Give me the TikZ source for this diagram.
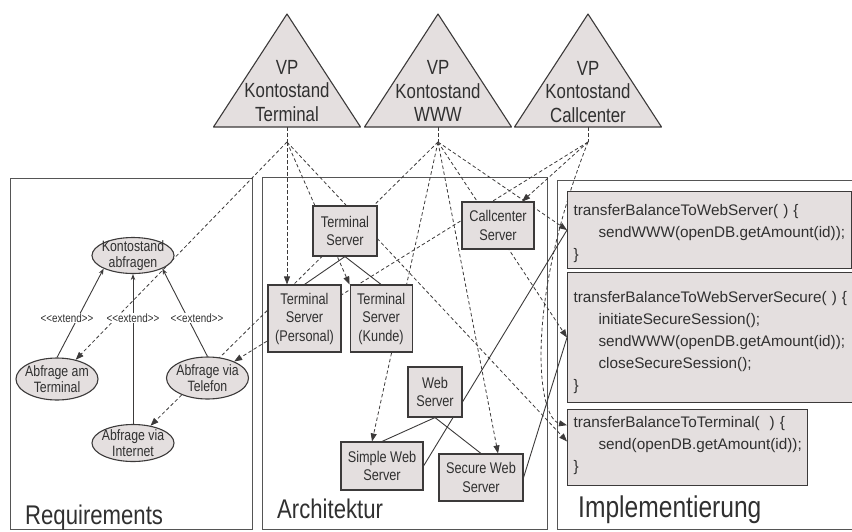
\documentclass[tikz,border=0pt]{standalone}
\usepackage{fontspec}
\setmainfont{Liberation Sans}
\newfontfamily\narrowsf{Liberation Sans}[FakeStretch=0.82]
\usepackage{xcolor}
\usetikzlibrary{arrows.meta,positioning,shapes.geometric,backgrounds,calc}

\definecolor{linecol}{HTML}{3C3A3A}
\definecolor{boxfill}{HTML}{E4DFDF}
\definecolor{textcol}{HTML}{303030}
\definecolor{panelcol}{HTML}{555555}

\begin{document}
\begin{tikzpicture}[x=1pt, y=-1pt,
  vpshape/.style={draw=linecol, fill=boxfill, line width=1.1pt, line join=round},
  vplabel/.style={align=center, text=textcol, inner sep=0pt, font=\narrowsf\fontsize{20.5}{23.5}\selectfont},
  srvbox/.style={draw=linecol, fill=boxfill, line width=1.1pt, align=center, inner sep=0pt, text=textcol, font=\narrowsf\fontsize{15.5}{18.5}\selectfont},
  usecase/.style={ellipse, draw=linecol, fill=boxfill, line width=1.1pt, align=center, inner xsep=-9pt, inner ysep=-3pt, text=textcol, font=\narrowsf\fontsize{15}{15.5}\selectfont},
  codebox/.style={draw=linecol, fill=boxfill, line width=1.1pt, anchor=north west, align=left, inner xsep=6pt, inner ysep=0pt, text=textcol, font=\fontsize{15.3}{22}\selectfont},
  extlabel/.style={fill=white, inner sep=1pt, text=textcol, font=\narrowsf\fontsize{12}{12}\selectfont},
  paneltitle/.style={anchor=base west, inner sep=0pt, text=textcol, font=\narrowsf\fontsize{27}{27}\selectfont},
  panel/.style={draw=panelcol, line width=1pt},
  stem/.style={draw=linecol, line width=0.8pt, dash pattern=on 3.5pt off 2.5pt},
  trace/.style={stem, -{Triangle[length=8pt,width=6pt]}},
  ext/.style={draw=linecol, line width=0.9pt, -{Stealth[length=6pt,width=4.5pt]}},
  link/.style={draw=linecol, line width=0.9pt}]
\useasboundingbox (0,0) rectangle (852,531);

\foreach \nm/\x in {T/287,W/438,C/588} {
  \path[vpshape] (\x-73.5,127) -- (\x,14) -- (\x+73.5,127) -- cycle;
  \coordinate (b\nm) at (\x,127);
  \coordinate (f\nm) at (\x,142);
}
\node[vplabel] (vpT) at (287,91) {VP\\Kontostand\\Terminal};
\node[vplabel] (vpW) at (438,91) {VP\\Kontostand\\WWW};
\node[vplabel] (vpC) at (588,92) {VP\\Kontostand\\Callcenter};

\node[usecase, minimum width=82pt, minimum height=36pt] (kto) at (133,255.5) {Kontostand\\abfragen};
\node[usecase, minimum width=82pt, minimum height=42pt] (aTerm) at (57,379) {Abfrage am\\Terminal};
\node[usecase, minimum width=82pt, minimum height=42pt] (aTel) at (207.5,378) {Abfrage via\\Telefon};
\node[usecase, minimum width=82pt, minimum height=37pt] (aInt) at (133,443) {Abfrage via\\Internet};
\node[extlabel] (x1) at (67,318) {<\kern0pt<extend>\kern0pt>};
\node[extlabel] (x2) at (133,318) {<\kern0pt<extend>\kern0pt>};
\node[extlabel] (x3) at (197,318) {<\kern0pt<extend>\kern0pt>};

\node[srvbox, minimum width=64pt, minimum height=50pt] (tsrv) at (345,231) {Terminal\\Server};
\node[srvbox, minimum width=73pt, minimum height=67pt] (tpers) at (304.5,318.5) {Terminal\\Server\\(Personal)};
\node[srvbox, minimum width=62pt, minimum height=67pt, right=8pt of tpers] (tkunde) {Terminal\\Server\\(Kunde)};
\node[srvbox, minimum width=72pt, minimum height=47pt] (csrv) at (498,225.5) {Callcenter\\Server};
\node[srvbox, minimum width=54pt, minimum height=50pt] (wsrv) at (435,392) {Web\\Server};
\node[srvbox, minimum width=82pt, minimum height=48pt] (simple) at (382,466) {Simple Web\\Server};
\node[srvbox, minimum width=84pt, minimum height=47pt] (secure) at (481,477.5) {Secure Web\\Server};

\node[codebox, text width=272pt] (cweb) at (567,191) {\rule{0pt}{24pt}transferBalanceToWebServer( ) \{\\\hspace*{25pt}sendWWW(openDB.getAmount(id));\\\}\rule[-9pt]{0pt}{9pt}};
\node[codebox, text width=280pt] (csec) at (567,272) {\rule{0pt}{30pt}transferBalanceToWebServerSecure( ) \{\\\hspace*{25pt}initiateSecureSession();\\\hspace*{25pt}sendWWW(openDB.getAmount(id));\\\hspace*{25pt}closeSecureSession();\\\}\rule[-12pt]{0pt}{12pt}};
\node[codebox, text width=228pt] (cterm) at (567,409) {\rule{0pt}{18pt}transferBalanceToTerminal(\hspace{10pt}) \{\\\hspace*{25pt}send(openDB.getAmount(id));\\\}\rule[-14pt]{0pt}{14pt}};

\node[paneltitle] (treq) at (25,524) {Requirements};
\node[paneltitle] (tarch) at (277,518.5) {Architektur};
\node[paneltitle, font=\narrowsf\fontsize{30}{30}\selectfont] (timpl) at (578,517) {Implementierung};

\begin{scope}[on background layer]
\draw[panel] (10,178) rectangle (252,529);
\draw[panel] (262,177) rectangle (547,529);
\draw[panel] (860,180) -- (557,180) -- (557,529) -- (860,529);
\foreach \nm in {T,W,C} \draw[stem] (b\nm) -- (f\nm);
\draw[trace] (fT) -- (aTerm);
\draw[trace] (fT) -- (fT |- tpers.north);
\draw[trace] (fT) -- (tkunde.north west);
\draw[trace] (fT) -- ($(cterm.north west)!0.42!(cterm.south west)$);
\draw[trace] (fW) -- (aInt);
\draw[trace] (fW) -- ($(simple.north west)!0.38!(simple.north east)$);
\draw[trace] (fW) -- ($(secure.north west)!0.7!(secure.north east)$);
\draw[trace] (fW) -- (csec.west);
\draw[trace] (fW) -- (cweb.west);
\draw[trace] (fC) -- ($(csrv.north west)!0.83!(csrv.north east)$);
\draw[trace] (fC) -- (aTel);
\draw[trace] (fC) .. controls (524,305) and (537,418) .. ($(cterm.north west)!0.21!(cterm.south west)$);
\draw[link] (tsrv.south) -- (tpers.north);
\draw[link] (tsrv.south) -- (tkunde.north);
\draw[link] (wsrv.south) -- (simple.north);
\draw[link] (wsrv.south) -- (secure.north);
\draw[link] (simple.east) -- (cweb.west);
\draw[link] (secure.east) -- (csec.west);
\draw[ext] (aTerm.north) -- (kto.south west);
\draw[ext] (aInt.north) -- (kto.south);
\draw[ext] (aTel.north) -- (kto.south east);
\end{scope}
\end{tikzpicture}
\end{document}
